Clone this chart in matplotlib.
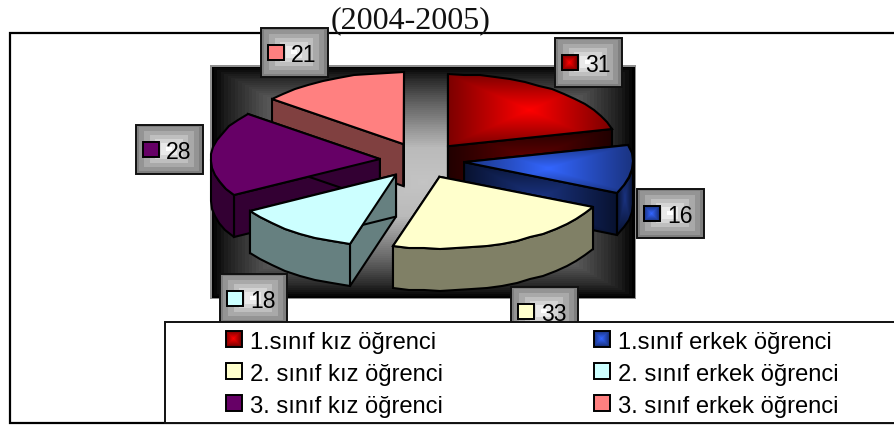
import numpy as np
import matplotlib
matplotlib.use('Agg')
import matplotlib.pyplot as plt
from matplotlib.patches import Polygon, Rectangle

categories = ['1.sınıf kız öğrenci', '1.sınıf erkek öğrenci', '2. sınıf kız öğrenci',
              '2. sınıf erkek öğrenci', '3. sınıf kız öğrenci', '3. sınıf erkek öğrenci']
values = [31, 16, 33, 18, 28, 21]
title = '(2004-2005)'

# top colour, side colour; red and blue have a centre -> edge gradient
top_colors = [('#ff0000', '#7a0000'), ('#3366ff', '#1a3380'), ('#ffffcc', '#ffffcc'),
              ('#ccffff', '#ccffff'), ('#660066', '#660066'), ('#ff8080', '#ff8080')]
side_colors = [('#600000', '#200000'), ('#1a3380', '#081230'), ('#808066', '#808066'),
               ('#668080', '#668080'), ('#330033', '#330033'), ('#804040', '#804040')]

# layout, pixels
CX, CY, RX, RY, DEPTH, EXPLODE = 422, 161.4, 169, 72, 42, 0.25
label_boxes = [(555, 39), (637, 190), (511, 288), (220, 275), (136, 126), (261, 29)]
legend_x = [226, 594]
legend_y = [332, 364, 396]
FONT = 'Liberation Sans'

fig = plt.figure(figsize=(8.94, 4.27), dpi=100)
ax = fig.add_axes([0, 0, 1, 1])
ax.axis('off')


def gradient(x0, y0, x1, y1, center, edge, z, clip=None, steps=None, stops=None):
    # rectangular "from centre" gradient, like the old office charts
    xs = np.arange(x0, x1 + 1) + 0.5
    ys = np.arange(y0, y1 + 1) + 0.5
    u = np.abs(xs - (x0 + x1) / 2) / max((x1 - x0) / 2, 1)
    v = np.abs(ys - (y0 + y1) / 2) / max((y1 - y0) / 2, 1)
    t = np.maximum.outer(v, u).clip(0, 1)
    if steps:
        t = np.round(t * steps) / steps
    if stops is not None:
        t = np.interp(t, stops[0], stops[1])
    c0 = np.array(matplotlib.colors.to_rgb(center))
    c1 = np.array(matplotlib.colors.to_rgb(edge))
    img = c0 + (c1 - c0) * t[..., None]
    im = ax.imshow(img, extent=(x0, x1 + 1, y1 + 1, y0), zorder=z, aspect='auto',
                   interpolation='nearest')
    if clip is not None:
        im.set_clip_path(clip)
    return im


def filled(points, colors, z, lw=1.5):
    pts = np.array(points)
    if colors[0] == colors[1]:
        ax.add_patch(Polygon(pts, closed=True, fc=colors[0], ec='black', lw=lw, zorder=z))
        return
    clip = Polygon(pts, closed=True, fc='none', ec='none', transform=ax.transData)
    ax.add_patch(clip)
    gradient(int(pts[:, 0].min()), int(pts[:, 1].min()), int(pts[:, 0].max()), int(pts[:, 1].max()),
             colors[0], colors[1], z, clip=clip)
    ax.add_patch(Polygon(pts, closed=True, fc='none', ec='black', lw=lw, zorder=z))


def arc(ax_, ay, a0, a1):
    # clockwise from 12 o'clock, snapped to whole pixels so the rim is slightly rough
    ang = np.radians(np.linspace(a0, a1, max(int((a1 - a0) / 5), 2)))
    return [(round(ax_ + RX * np.sin(a)), round(ay - RY * np.cos(a))) for a in ang]


# outer frame
ax.add_patch(Rectangle((10, 33.5), 1000, 390.5, fc='white', ec='black', lw=1.6, zorder=1))
ax.text(331, 28, title, family='Liberation Serif', fontsize=23, color='#111111', zorder=1.5,
        va='baseline', ha='left')

# plot area
ax.add_patch(Rectangle((210, 66), 426, 234, fc='#909090', ec='none', zorder=2))
gradient(212, 68, 634, 298, '#c4c4c4', '#000000', 2.1,
         stops=([0, 0.3, 0.75, 0.93, 1], [0, 0.05, 0.58, 0.85, 1]), steps=60)

# slices, back to front
fracs = np.array(values) / sum(values) * 360
starts = np.concatenate([[0], np.cumsum(fracs)[:-1]])
mids = starts + fracs / 2
apex_x = CX + EXPLODE * RX * np.sin(np.radians(mids))
apex_y = CY - EXPLODE * RY * np.cos(np.radians(mids))

z = 3
for i in np.argsort(apex_y):
    a0, a1 = starts[i], starts[i] + fracs[i]
    x, y = apex_x[i], apex_y[i]
    rim = arc(x, y, a0, a1)
    for end in (rim[0], rim[-1]):
        filled([(x, y), end, (end[0], end[1] + DEPTH), (x, y + DEPTH)], side_colors[i], z)
        z += 0.01
    lo, hi = max(a0, 90), min(a1, 270)
    if hi > lo:
        edge = arc(x, y, lo, hi)
        lower = [(p[0], p[1] + DEPTH) for p in edge[::-1]]
        filled(edge + lower, side_colors[i], z)
        z += 0.01
    filled([(x, y)] + rim, top_colors[i], z)
    z += 0.01


def swatch(x, y, colors, zz):
    ax.add_patch(Rectangle((x, y), 15, 15, fc=colors[1], ec='none', zorder=zz))
    gradient(x, y, x + 15, y + 15, colors[0], colors[1], zz + 0.01)
    ax.add_patch(Rectangle((x, y), 15.5, 15.5, fc='none', ec='black', lw=1.4, zorder=zz + 0.02))


# data labels
for i, (bx, by) in enumerate(label_boxes):
    w, h = 67, 49
    gradient(bx, by, bx + w - 1, by + h - 1, '#ffffff', '#7f7f7f', 5, steps=6)
    ax.add_patch(Rectangle((bx, by), w, h, fc='none', ec='#111111', lw=1.4, zorder=5.1))
    swatch(bx + 7, by + 16.5, top_colors[i], 5.2)
    ax.text(bx + 30, by + 33, str(values[i]), family=FONT, fontsize=16.6, color='black',
            va='baseline', zorder=5.3)

# legend
ax.add_patch(Rectangle((164.5, 322.5), 1000, 101.5, fc='white', ec='#111111', lw=1.4, zorder=6))
for i, name in enumerate(categories):
    col = i % 2
    row = i // 2
    swatch(legend_x[col], legend_y[row], top_colors[i], 6.1)
    ax.text(legend_x[col] + 23.5, legend_y[row] + 17, name, family=FONT, fontsize=17.1,
            color='black', va='baseline', zorder=6.2)

ax.set_xlim(0, 894)
ax.set_ylim(427, 0)
fig.savefig('out.png', dpi=100)
